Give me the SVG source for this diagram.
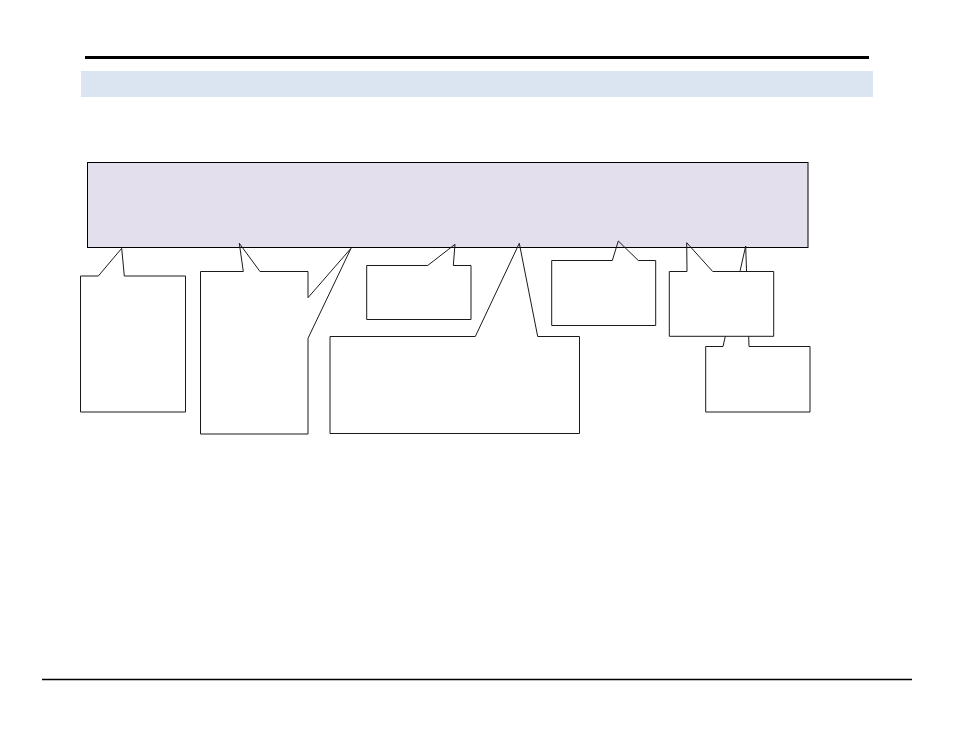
<svg xmlns="http://www.w3.org/2000/svg" width="954" height="737" viewBox="0 0 954 737">
<style>
.body{fill:#ffffff;stroke:none}
.outline{fill:none;stroke:#1a1a1a;stroke-width:1;stroke-linejoin:miter}
</style>
<rect x="0" y="0" width="954" height="737" fill="#ffffff"/>
<g id="header">
<rect x="85" y="56" width="784" height="3" fill="#000000"/>
<rect x="81" y="71" width="792" height="26" fill="#DBE5F1"/>
</g>
<g id="footer">
<line x1="42" y1="679.5" x2="912" y2="679.5" stroke="#000000" stroke-width="1.3"/>
</g>
<g id="main-box">
<rect x="87.5" y="162.5" width="720.5" height="85" fill="#E4DFEC" stroke="#000000" stroke-width="1"/>
</g>
<g id="connectors"></g>
<g id="callout-1">
<rect class="body" x="81" y="276" width="104" height="136"/>
<path class="outline" d="M80.5,276 L98.3,276 L121.7,248.3 L124.3,276 L185.5,276 L185.5,412 L80.5,412 Z"/>
</g>
<g id="callout-2">
<rect class="body" x="200" y="271.5" width="108" height="162.5"/>
<path class="outline" d="M200.5,271.5 L243.3,271.5 L239.3,243.3 L260,271.5 L308,271.5 L308,297.7 L351,248.3 L308,338.3 L308,434 L200.5,434 Z"/>
</g>
<g id="callout-3">
<rect class="body" x="367" y="265.5" width="104" height="54"/>
<path class="outline" d="M366.7,265.5 L427.7,265.5 L455,244.3 L453.3,265.5 L471,265.5 L471,319.5 L366.7,319.5 Z"/>
</g>
<g id="callout-4">
<rect class="body" x="330" y="336.5" width="249" height="97"/>
<path class="outline" d="M330,336.5 L475.3,336.5 L519.3,243.3 L537.7,336.5 L579.5,336.5 L579.5,433.5 L330,433.5 Z"/>
</g>
<g id="callout-5">
<rect class="body" x="552" y="260.5" width="103.5" height="65"/>
<path class="outline" d="M551.7,260.5 L612.3,260.5 L618.3,241 L638.3,260.5 L655.7,260.5 L655.7,325.5 L551.7,325.5 Z"/>
</g>
<g id="callout-7">
<rect class="body" x="706" y="346.5" width="104" height="65.5"/>
<path class="outline" d="M705.7,346.5 L723,346.5 L745.7,246 L749,346.5 L810,346.5 L810,412 L705.7,412 Z"/>
</g>
<g id="callout-6">
<rect class="body" x="669.5" y="271.5" width="104" height="64.8"/>
<path class="outline" d="M669.3,271.5 L687,271.5 L686.7,242.7 L712.7,271.5 L773.7,271.5 L773.7,336.3 L669.3,336.3 Z"/>
</g>
</svg>
